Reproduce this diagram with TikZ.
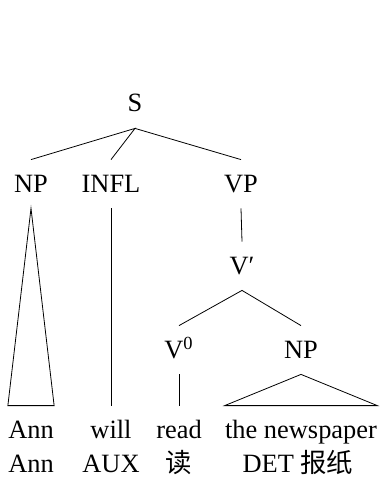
\documentclass[tikz,border=0pt]{standalone}
\usepackage{fontspec}
\setmainfont{Liberation Serif}
\newfontfamily\cjk{Noto Sans CJK SC}

\begin{document}
\begin{tikzpicture}[x=0.5pt,y=-0.5pt,font=\fontsize{13.2}{16}\selectfont,
  cat/.style={anchor=base,inner xsep=0pt,inner ysep=8pt,text height=8pt,text depth=0pt}]
\useasboundingbox (0,0) rectangle (384,486);
\node[cat] at (135,112) (s) {S};
\node[cat] at (31,192) (np1) {NP}; \node[cat] at (111,192) (infl) {INFL}; \node[cat] at (241,192) (vp) {VP};
\node[cat] at (242,274) (vbar) {V′};
\node[cat] at (179,358) (v0) {V\textsuperscript{0}}; \node[cat] at (301,358) (np2) {NP};
\draw (np1.north) -- (s.south) -- (infl.north);
\draw (s.south) -- (vp.north);
\draw (vp.south) -- (vbar.north);
\draw (v0.north) -- (vbar.south) -- (np2.north);

% words
\node[cat] at (31,438) (ann) {Ann}; \node[cat] at (111,438) (will) {will};
\node[cat] at (179,438) (read) {read}; \node[cat] at (301,438) (paper) {the newspaper};
\draw (np1.south) -- (ann.north west) -- (ann.north east) -- cycle;
\draw (infl.south) -- (will.north);
\draw (v0.south) -- (read.north);
\draw (np2.south) -- (paper.north west) -- (paper.north east) -- cycle;

% glosses
\node[cat] at (31,472) (gann) {Ann}; \node[cat] at (111,472) (gaux) {AUX};
\node[cat] at (179,472) (gread) {\cjk 读}; \node[cat] at (298,472) (gpaper) {DET {\cjk 报纸}};
\end{tikzpicture}
\end{document}
